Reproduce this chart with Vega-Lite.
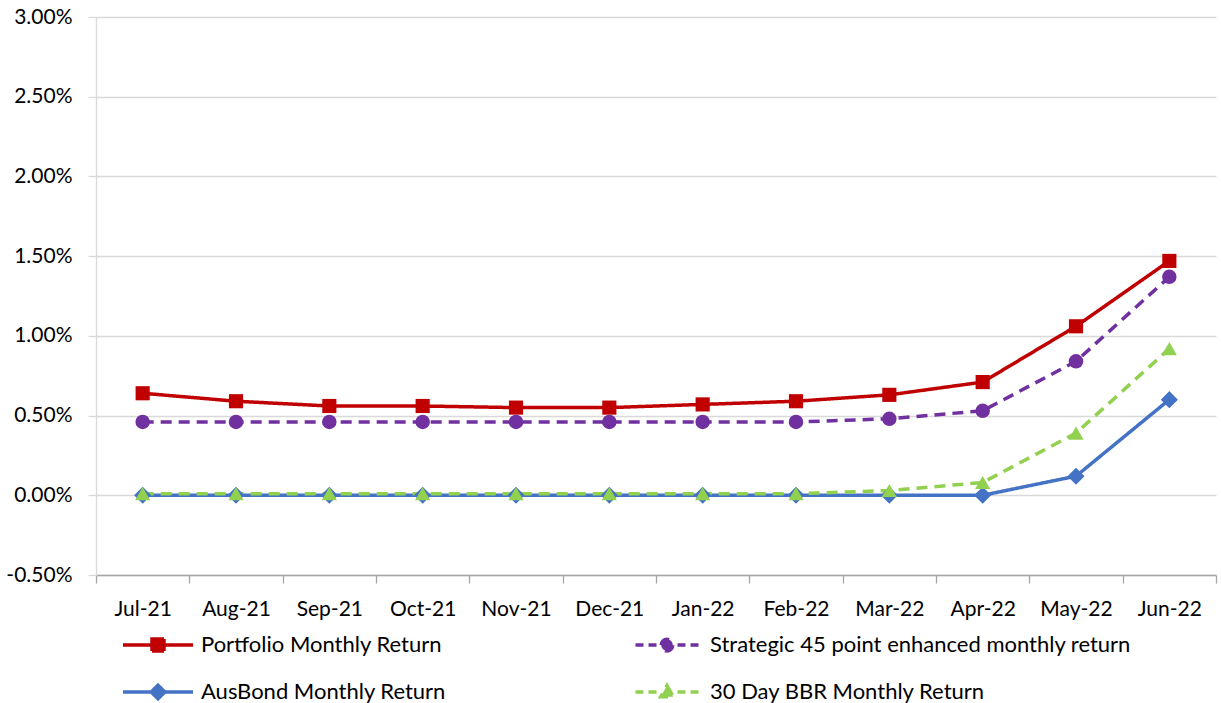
{
  "$schema": "https://vega.github.io/schema/vega-lite/v6.json",
  "width": 1120,
  "height": 558,
  "autosize": "none",
  "padding": {"left": 96, "top": 17, "right": 5, "bottom": 128},
  "background": "white",
  "config": {
    "font": "Lato",
    "view": {"stroke": null},
    "legend": {
      "orient": "none",
      "legendX": 51,
      "legendY": 617,
      "columns": 2,
      "direction": "horizontal",
      "columnPadding": 182,
      "rowPadding": 20,
      "padding": 0,
      "symbolSize": 256,
      "symbolStrokeWidth": 3.5,
      "symbolOpacity": 1,
      "labelOffset": 32,
      "labelFontSize": 22,
      "labelFont": "Lato",
      "labelColor": "#000000",
      "labelLimit": 600
    }
  },
  "data": {
    "values": [
      {"month": "Jul-21", "series": "Portfolio Monthly Return", "value": 0.0064},
      {"month": "Aug-21", "series": "Portfolio Monthly Return", "value": 0.0059},
      {"month": "Sep-21", "series": "Portfolio Monthly Return", "value": 0.0056},
      {"month": "Oct-21", "series": "Portfolio Monthly Return", "value": 0.0056},
      {"month": "Nov-21", "series": "Portfolio Monthly Return", "value": 0.0055},
      {"month": "Dec-21", "series": "Portfolio Monthly Return", "value": 0.0055},
      {"month": "Jan-22", "series": "Portfolio Monthly Return", "value": 0.0057},
      {"month": "Feb-22", "series": "Portfolio Monthly Return", "value": 0.0059},
      {"month": "Mar-22", "series": "Portfolio Monthly Return", "value": 0.0063},
      {"month": "Apr-22", "series": "Portfolio Monthly Return", "value": 0.0071},
      {"month": "May-22", "series": "Portfolio Monthly Return", "value": 0.0106},
      {"month": "Jun-22", "series": "Portfolio Monthly Return", "value": 0.0147},
      {"month": "Jul-21", "series": "Strategic 45 point enhanced monthly return", "value": 0.0046},
      {"month": "Aug-21", "series": "Strategic 45 point enhanced monthly return", "value": 0.0046},
      {"month": "Sep-21", "series": "Strategic 45 point enhanced monthly return", "value": 0.0046},
      {"month": "Oct-21", "series": "Strategic 45 point enhanced monthly return", "value": 0.0046},
      {"month": "Nov-21", "series": "Strategic 45 point enhanced monthly return", "value": 0.0046},
      {"month": "Dec-21", "series": "Strategic 45 point enhanced monthly return", "value": 0.0046},
      {"month": "Jan-22", "series": "Strategic 45 point enhanced monthly return", "value": 0.0046},
      {"month": "Feb-22", "series": "Strategic 45 point enhanced monthly return", "value": 0.0046},
      {"month": "Mar-22", "series": "Strategic 45 point enhanced monthly return", "value": 0.0048},
      {"month": "Apr-22", "series": "Strategic 45 point enhanced monthly return", "value": 0.0053},
      {"month": "May-22", "series": "Strategic 45 point enhanced monthly return", "value": 0.0084},
      {"month": "Jun-22", "series": "Strategic 45 point enhanced monthly return", "value": 0.0137},
      {"month": "Jul-21", "series": "AusBond Monthly Return", "value": 0.0},
      {"month": "Aug-21", "series": "AusBond Monthly Return", "value": 0.0},
      {"month": "Sep-21", "series": "AusBond Monthly Return", "value": 0.0},
      {"month": "Oct-21", "series": "AusBond Monthly Return", "value": 0.0},
      {"month": "Nov-21", "series": "AusBond Monthly Return", "value": 0.0},
      {"month": "Dec-21", "series": "AusBond Monthly Return", "value": 0.0},
      {"month": "Jan-22", "series": "AusBond Monthly Return", "value": 0.0},
      {"month": "Feb-22", "series": "AusBond Monthly Return", "value": 0.0},
      {"month": "Mar-22", "series": "AusBond Monthly Return", "value": 0.0},
      {"month": "Apr-22", "series": "AusBond Monthly Return", "value": 0.0},
      {"month": "May-22", "series": "AusBond Monthly Return", "value": 0.0012},
      {"month": "Jun-22", "series": "AusBond Monthly Return", "value": 0.006},
      {"month": "Jul-21", "series": "30 Day BBR Monthly Return", "value": 0.0001},
      {"month": "Aug-21", "series": "30 Day BBR Monthly Return", "value": 0.0001},
      {"month": "Sep-21", "series": "30 Day BBR Monthly Return", "value": 0.0001},
      {"month": "Oct-21", "series": "30 Day BBR Monthly Return", "value": 0.0001},
      {"month": "Nov-21", "series": "30 Day BBR Monthly Return", "value": 0.0001},
      {"month": "Dec-21", "series": "30 Day BBR Monthly Return", "value": 0.0001},
      {"month": "Jan-22", "series": "30 Day BBR Monthly Return", "value": 0.0001},
      {"month": "Feb-22", "series": "30 Day BBR Monthly Return", "value": 0.0001},
      {"month": "Mar-22", "series": "30 Day BBR Monthly Return", "value": 0.0003},
      {"month": "Apr-22", "series": "30 Day BBR Monthly Return", "value": 0.0008},
      {"month": "May-22", "series": "30 Day BBR Monthly Return", "value": 0.0039},
      {"month": "Jun-22", "series": "30 Day BBR Monthly Return", "value": 0.0092}
    ]
  },
  "encoding": {
    "x": {
      "field": "month",
      "type": "ordinal",
      "sort": ["Jul-21", "Aug-21", "Sep-21", "Oct-21", "Nov-21", "Dec-21", "Jan-22", "Feb-22", "Mar-22", "Apr-22", "May-22", "Jun-22"],
      "scale": {"type": "band", "paddingInner": 0, "paddingOuter": 0},
      "bandPosition": 0.5,
      "axis": {
        "title": null,
        "labelAngle": 0,
        "grid": false,
        "tickBand": "extent",
        "tickExtra": true,
        "domainColor": "#a6a6a6",
        "domainWidth": 1.3,
        "tickColor": "#a6a6a6",
        "tickWidth": 1.3,
        "tickSize": 8,
        "labelFontSize": 21,
        "labelFont": "Lato",
        "labelColor": "#000000",
        "labelPadding": 15
      }
    },
    "y": {
      "field": "value",
      "type": "quantitative",
      "scale": {"domain": [-0.005, 0.03], "nice": false, "zero": false},
      "axis": {
        "title": null,
        "values": [-0.005, 0, 0.005, 0.01, 0.015, 0.02, 0.025, 0.03],
        "labelExpr": "replace(format(datum.value, '.2%'), '\u2212', '-')",
        "grid": true,
        "gridColor": "#d9d9d9",
        "gridWidth": 1.3,
        "domainColor": "#d9d9d9",
        "domainWidth": 1.3,
        "tickColor": "#d9d9d9",
        "tickWidth": 1.3,
        "tickSize": 8,
        "labelFontSize": 21,
        "labelFont": "Lato",
        "labelColor": "#000000",
        "labelPadding": 16
      }
    }
  },
  "layer": [
    {
      "mark": {"type": "point", "filled": true, "opacity": 0},
      "encoding": {
        "fill": {
          "field": "series",
          "type": "nominal",
          "scale": {
            "domain": ["Portfolio Monthly Return", "Strategic 45 point enhanced monthly return", "AusBond Monthly Return", "30 Day BBR Monthly Return"],
            "range": ["#C00000", "#7030A0", "#4472C4", "#92D050"]
          },
          "legend": {"title": null}
        },
        "stroke": {
          "field": "series",
          "type": "nominal",
          "scale": {
            "domain": ["Portfolio Monthly Return", "Strategic 45 point enhanced monthly return", "AusBond Monthly Return", "30 Day BBR Monthly Return"],
            "range": ["#C00000", "#7030A0", "#4472C4", "#92D050"]
          },
          "legend": {"title": null}
        },
        "shape": {
          "field": "series",
          "type": "nominal",
          "scale": {
            "domain": ["Portfolio Monthly Return", "Strategic 45 point enhanced monthly return", "AusBond Monthly Return", "30 Day BBR Monthly Return"],
            "range": [
              "M-4.375,0H4.375M-0.75,-0.75H0.75V0.75H-0.75Z",
              "M-3.94,0H-2.94M-2.31,0H-1.31M1.31,0H2.31M2.94,0H3.94M-0.72,0A0.72,0.72,0,1,1,0.72,0A0.72,0.72,0,1,1,-0.72,0Z",
              "M-4.375,0H4.375M0,-0.85L0.85,0L0,0.85L-0.85,0Z",
              "M-3.94,0H-2.94M-2.31,0H-1.31M1.31,0H2.31M2.94,0H3.94M0,-0.8L0.78,0.6H-0.78Z"
            ]
          },
          "legend": {"title": null}
        }
      }
    },
    {
      "mark": {"type": "line", "strokeWidth": 3.5},
      "encoding": {
        "color": {
          "field": "series",
          "type": "nominal",
          "scale": {
            "domain": ["Portfolio Monthly Return", "Strategic 45 point enhanced monthly return", "AusBond Monthly Return", "30 Day BBR Monthly Return"],
            "range": ["#C00000", "#7030A0", "#4472C4", "#92D050"]
          },
          "legend": null
        },
        "strokeDash": {
          "field": "series",
          "type": "nominal",
          "scale": {
            "domain": ["Portfolio Monthly Return", "Strategic 45 point enhanced monthly return", "AusBond Monthly Return", "30 Day BBR Monthly Return"],
            "range": [[1, 0], [11, 7], [1, 0], [11, 7]]
          },
          "legend": null
        }
      }
    },
    {
      "transform": [{"filter": "datum.series == 'Portfolio Monthly Return'"}],
      "mark": {"type": "point", "filled": true, "opacity": 1, "shape": "square", "size": 200, "color": "#C00000"},
      "encoding": {}
    },
    {
      "transform": [{"filter": "datum.series == 'Strategic 45 point enhanced monthly return'"}],
      "mark": {"type": "point", "filled": true, "opacity": 1, "shape": "circle", "size": 210, "color": "#7030A0"},
      "encoding": {}
    },
    {
      "transform": [{"filter": "datum.series == 'AusBond Monthly Return'"}],
      "mark": {"type": "point", "filled": true, "opacity": 1, "shape": "diamond", "size": 290, "color": "#4472C4"},
      "encoding": {}
    },
    {
      "transform": [{"filter": "datum.series == '30 Day BBR Monthly Return'"}],
      "mark": {"type": "point", "filled": true, "opacity": 1, "shape": "triangle-up", "size": 230, "color": "#92D050"},
      "encoding": {}
    }
  ]
}
